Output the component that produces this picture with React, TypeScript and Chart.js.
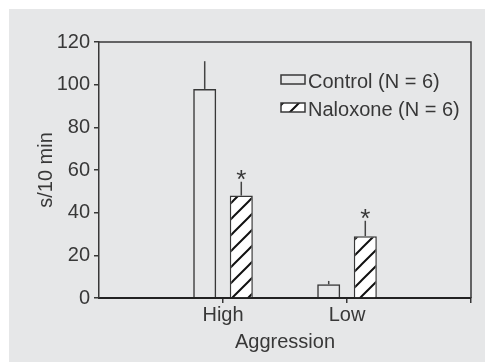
import React, { useEffect, useRef } from 'react';
import { Chart, registerables } from 'chart.js';

Chart.register(...registerables);

const categories = ['', 'High', 'Low', ''];
const seriesLabels = ['Control (N = 6)', 'Naloxone (N = 6)'];
const controlValues = [null, 98, 6.4, null];
const naloxoneValues = [null, 48, 29, null];
const controlErrors = [null, 13, 1.6, null];
const naloxoneErrors = [null, 6.5, 7.2, null];
const naloxoneSignificant = [false, true, true, false];
const yMin = 0;
const yMax = 120;
const yStep = 20;
const xTitle = 'Aggression';
const yTitle = 's/10 min';

const FONT = "'Liberation Sans', Arial, Helvetica, sans-serif";
const INK = '#383838';
const BG = '#e6e7e8';

function makeHatch(ctx: CanvasRenderingContext2D): CanvasPattern | string {
  const s = 16;
  const c = document.createElement('canvas');
  c.width = s;
  c.height = s;
  const g = c.getContext('2d');
  if (!g) return '#ffffff';
  g.fillStyle = '#ffffff';
  g.fillRect(0, 0, s, s);
  g.strokeStyle = '#111111';
  g.lineWidth = 2;
  g.lineCap = 'square';
  g.beginPath();
  g.moveTo(0, s);
  g.lineTo(s, 0);
  g.moveTo(-s / 2, s / 2);
  g.lineTo(s / 2, -s / 2);
  g.moveTo(s / 2, s * 1.5);
  g.lineTo(s * 1.5, s / 2);
  g.stroke();
  return ctx.createPattern(c, 'repeat') || '#ffffff';
}

export default function App() {
  const ref = useRef<HTMLCanvasElement | null>(null);

  useEffect(() => {
    const canvas = ref.current;
    if (!canvas) return;
    const ctx0 = canvas.getContext('2d') as CanvasRenderingContext2D;
    const hatch = makeHatch(ctx0);

    const overlay = {
      id: 'overlay',
      afterDatasetsDraw(chart: any) {
        const ctx: CanvasRenderingContext2D = chart.ctx;
        const ys = chart.scales.y;
        const { left, right, top, bottom } = chart.chartArea;
        ctx.save();
        // frame (top and right)
        ctx.strokeStyle = INK;
        ctx.lineWidth = 1.5;
        ctx.beginPath();
        ctx.moveTo(left, top);
        ctx.lineTo(right, top);
        ctx.lineTo(right, bottom);
        ctx.stroke();

        // error bars
        const groups: [any[], any[], number][] = [
          [controlValues, controlErrors, 0],
          [naloxoneValues, naloxoneErrors, 1],
        ];
        ctx.strokeStyle = '#444444';
        ctx.lineWidth = 1.5;
        groups.forEach(([vals, errs, di]) => {
          const meta = chart.getDatasetMeta(di);
          vals.forEach((v: number | null, i: number) => {
            if (v == null || errs[i] == null) return;
            const el = meta.data[i];
            if (!el) return;
            const x = el.x;
            const y0 = ys.getPixelForValue(v);
            const y1 = ys.getPixelForValue(v + errs[i]);
            ctx.beginPath();
            ctx.moveTo(x, y0);
            ctx.lineTo(x, y1);
            ctx.stroke();
          });
        });

        // significance asterisks
        ctx.fillStyle = INK;
        ctx.font = `26px ${FONT}`;
        ctx.textAlign = 'center';
        ctx.textBaseline = 'alphabetic';
        const nMeta = chart.getDatasetMeta(1);
        naloxoneValues.forEach((v, i) => {
          if (v == null || !naloxoneSignificant[i]) return;
          const el = nMeta.data[i];
          const yTop = ys.getPixelForValue(v + (naloxoneErrors[i] || 0));
          ctx.fillText('*', el.x, yTop + 6);
        });

        // legend
        const lx = right - 190;
        const ly = top + 33;
        const rowGap = 28;
        const fills = ['rgba(0,0,0,0)', hatch];
        seriesLabels.forEach((lab, k) => {
          const by = ly + k * rowGap;
          ctx.fillStyle = fills[k] as any;
          ctx.fillRect(lx, by, 24, 9);
          ctx.strokeStyle = INK;
          ctx.lineWidth = 1.5;
          ctx.strokeRect(lx, by, 24, 9);
          ctx.fillStyle = INK;
          ctx.textAlign = 'left';
          ctx.textBaseline = 'alphabetic';
          ctx.font = `20px ${FONT}`;
          ctx.fillText(lab, lx + 27, by + 13);
        });
        ctx.restore();
      },
    };

    const chart = new Chart(canvas, {
      type: 'bar',
      data: {
        labels: categories,
        datasets: [
          {
            label: seriesLabels[0],
            data: controlValues as any,
            backgroundColor: 'rgba(0,0,0,0)',
            borderColor: INK,
            borderWidth: 1.5,
            categoryPercentage: 0.59,
            barPercentage: 0.63,
          },
          {
            label: seriesLabels[1],
            data: naloxoneValues as any,
            backgroundColor: hatch as any,
            borderColor: INK,
            borderWidth: 1.5,
            categoryPercentage: 0.59,
            barPercentage: 0.63,
          },
        ],
      },
      options: {
        animation: false,
        responsive: true,
        maintainAspectRatio: false,
        layout: { padding: { top: 33, right: 14, left: 0, bottom: 0 } },
        plugins: {
          legend: { display: false },
          tooltip: { enabled: false },
        },
        scales: {
          x: {
            type: 'category',
            offset: false,
            grid: {
              offset: false,
              drawOnChartArea: false,
              drawTicks: true,
              tickLength: 5,
              color: (c: any) => (c.index === 0 ? 'rgba(0,0,0,0)' : INK),
              lineWidth: 1.5,
            },
            border: { display: true, color: '#222222', width: 2 },
            ticks: {
              color: INK,
              font: { family: FONT, size: 20 },
              padding: 0,
              maxRotation: 0,
              autoSkip: false,
            },
            title: {
              display: true,
              text: xTitle,
              color: INK,
              font: { family: FONT, size: 20 },
              padding: { top: 0, bottom: 8 },
            },
            afterFit: (s: any) => {
              s.height = 64;
            },
          },
          y: {
            min: yMin,
            max: yMax,
            grid: {
              drawOnChartArea: false,
              drawTicks: true,
              tickLength: 5,
              color: INK,
              lineWidth: 1.5,
            },
            border: { display: true, color: INK, width: 1.5 },
            ticks: {
              stepSize: yStep,
              color: INK,
              font: { family: FONT, size: 20 },
              padding: 4,
            },
            title: {
              display: true,
              text: yTitle,
              color: INK,
              font: { family: FONT, size: 20 },
              padding: { top: 25, bottom: 0 },
            },
            afterFit: (s: any) => {
              s.width = 90;
            },
          },
        },
      },
      plugins: [overlay],
    });

    return () => chart.destroy();
  }, []);

  return (
    <div
      style={{
        position: 'absolute',
        left: 9,
        top: 9,
        width: 476,
        height: 353,
        background: BG,
      }}
    >
      <canvas ref={ref} />
    </div>
  );
}
